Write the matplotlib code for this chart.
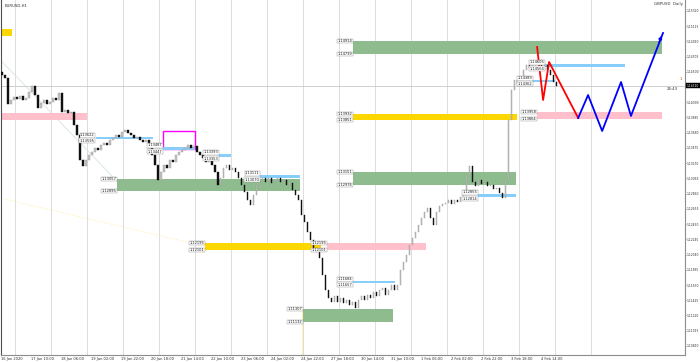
import matplotlib
matplotlib.use("Agg")
import matplotlib.pyplot as plt
from matplotlib.patches import Rectangle
import matplotlib.transforms as mtrans

# ---------------- data ----------------
first_open = 1.1450
closes = [
    1.1446, 1.1442, 1.1407, 1.1412, 1.1416, 1.1413, 1.1417, 1.1412, 1.1415, 1.1423,
    1.1431, 1.1419, 1.1401, 1.1408, 1.1412, 1.1407, 1.1409, 1.1415, 1.1412, 1.1421,
    1.1396, 1.1399, 1.1395, 1.1396, 1.1378, 1.1365, 1.1331, 1.1323, 1.1331, 1.1338,
    1.1342, 1.1347, 1.1345, 1.1351, 1.1354, 1.1351, 1.1358, 1.1361, 1.1365, 1.1362,
    1.1369, 1.1372, 1.1368, 1.1365, 1.1361, 1.1362, 1.1358, 1.1355, 1.1358, 1.1347,
    1.1338, 1.1325, 1.1304, 1.1315, 1.1325, 1.1320, 1.1331, 1.1329, 1.1338, 1.1342,
    1.1345, 1.1347, 1.1351, 1.1347, 1.1350, 1.1342, 1.1338, 1.1334, 1.1329, 1.1331,
    1.1325, 1.1315, 1.1298, 1.1307, 1.1320, 1.1325, 1.1318, 1.1320, 1.1315, 1.1307,
    1.1298, 1.1288, 1.1277, 1.1271, 1.1284, 1.1298, 1.1304, 1.1307, 1.1302, 1.1307,
    1.1300, 1.1304, 1.1307, 1.1302, 1.1304, 1.1298, 1.1300, 1.1291, 1.1284, 1.1277,
    1.1257, 1.1248, 1.1234, 1.1224, 1.1213, 1.1207, 1.1199, 1.1176, 1.1156, 1.1145,
    1.1140, 1.1148, 1.1140, 1.1145, 1.1139, 1.1143, 1.1136, 1.1140, 1.1132, 1.1143,
    1.1148, 1.1143, 1.1150, 1.1145, 1.1154, 1.1148, 1.1156, 1.1159, 1.1150, 1.1156,
    1.1163, 1.1156, 1.1163, 1.1183, 1.1194, 1.1203, 1.1217, 1.1226, 1.1234, 1.1244,
    1.1253, 1.1261, 1.1267, 1.1253, 1.1244, 1.1261, 1.1269, 1.1272, 1.1273, 1.1277,
    1.1272, 1.1277, 1.1275, 1.1281, 1.1284, 1.1311, 1.1323, 1.1302, 1.1296, 1.1304,
    1.1299, 1.1302, 1.1296, 1.1298, 1.1292, 1.1294, 1.1287, 1.1280, 1.1304, 1.1385,
    1.1425, 1.1439, 1.1434, 1.1442, 1.1452, 1.1459, 1.1455, 1.1463, 1.1459, 1.1466,
    1.1452, 1.1459, 1.1452, 1.1446, 1.1436, 1.1431,
]

price_ticks = [1.15320, 1.15115, 1.14910, 1.14705, 1.14500, 1.14295, 1.14090, 1.13885,
               1.13680, 1.13475, 1.13270, 1.13065, 1.12860, 1.12655, 1.12450, 1.12245,
               1.12040, 1.11835, 1.11630, 1.11425, 1.11220, 1.11015, 1.10810]

date_labels = ["16 Jan 2020", "17 Jan 10:00", "18 Jan 06:00", "19 Jan 02:00", "19 Jan 22:00",
               "20 Jan 18:00", "21 Jan 14:00", "22 Jan 10:00", "23 Jan 06:00", "24 Jan 02:00",
               "24 Jan 22:00", "27 Jan 18:00", "30 Jan 14:00", "31 Jan 10:00",
               "1 Feb 06:00", "2 Feb 02:00", "2 Feb 22:00", "3 Feb 18:00", "4 Feb 14:00"]
date_label_bars = [-0.5, 9.5, 19.5, 29.5, 39.5, 49.5, 59.5, 69.5, 79.5, 89.5, 99.5,
                   109.5, 119.5, 129.5, 139.5, 149.5, 159.5, 169.5, 179.5]
grid_bars = [4.5 + 12 * k for k in range(17)]

# zones: (start bar, end bar, top price, bottom price, colour, style, labelled)
zones = [
    (-0.5, 3.5, 1.15076, 1.14981, "#ffd700", "fill", False),
    (-0.5, 28.5, 1.13945, 1.13851, "#ffc0cb", "fill", False),
    (31.2, 50.5, 1.13622, 1.13595, "#87cefa", "fill", True),
    (53.8, 64.5, 1.13703, 1.13460, "#ff00ff", "outline", False),
    (53.8, 64.5, 1.13487, 1.13447, "#87cefa", "fill", True),
    (72.5, 76.5, 1.13393, 1.13353, "#87cefa", "fill", True),
    (38.5, 99.5, 1.13057, 1.12895, "#8fbc8f", "fill", True),
    (86.2, 99.5, 1.13111, 1.13070, "#87cefa", "fill", True),
    (67.8, 106.5, 1.12195, 1.12101, "#ffd700", "fill", True),
    (108.5, 141.5, 1.12195, 1.12101, "#ffc0cb", "fill", True),
    (100.5, 130.5, 1.11307, 1.11132, "#8fbc8f", "fill", True),
    (117.2, 131.2, 1.11684, 1.11657, "#87cefa", "fill", True),
    (117.2, 171.5, 1.13151, 1.12976, "#8fbc8f", "fill", True),
    (158.8, 171.5, 1.12855, 1.12814, "#87cefa", "fill", True),
    (117.2, 171.8, 1.13932, 1.13851, "#ffd700", "fill", True),
    (178.5, 220.2, 1.13958, 1.13864, "#ffc0cb", "fill", True),
    (117.2, 220.2, 1.14914, 1.14739, "#8fbc8f", "fill", True),
    (181.2, 207.8, 1.14605, 1.14564, "#87cefa", "fill", True),
    (177.2, 184.5, 1.14389, 1.14362, "#87cefa", "fill", True),
]

red_x = [178.5, 180.5, 182.5, 192.2]
red_p = [1.14833, 1.14120, 1.14631, 1.13878]
blue_x = [192.2, 195.5, 200.2, 206.5, 209.8, 220.5]
blue_p = [1.13878, 1.14187, 1.13703, 1.14362, 1.13905, 1.15022]

# ---------------- figure ----------------
W, H = 700, 362
fig = plt.figure(figsize=(W / 100, H / 100), dpi=100)
ax = fig.add_axes([0.5 / W, (H - 355) / H, 684.5 / W, 355 / H])
ax.set_xlim(-0.5, 685 / 3 - 0.5)
ax.set_ylim(1.10688, 1.15466)

for g in grid_bars:
    ax.axvline(g, color="#dcdcdc", lw=0.7, zorder=0)

# faint helper lines
ax.plot([-0.5, 38], [1.14658, 1.13043], color="#d5e6d5", lw=0.6, zorder=1)
ax.plot([-0.5, 67.8], [1.12800, 1.12150], color="#fff0b0", lw=0.6, ls=(0, (2, 2)), zorder=1)
ax.plot([100.2, 100.2], [1.10688, 1.11300], color="#fff0a0", lw=0.6, zorder=1)

# zones
for x0, x1, top, bot, col, style, lab in zones:
    if style == "fill":
        ax.add_patch(Rectangle((x0, bot), x1 - x0, top - bot, facecolor=col,
                               edgecolor="none", zorder=2))
    else:
        ax.add_patch(Rectangle((x0, bot), x1 - x0, top - bot, facecolor="none",
                               edgecolor=col, lw=1.0, zorder=2))
    if lab:
        thin = (top - bot) < 0.0005
        off = 0.00024 if thin else 0.0
        for p, shift in ((top, off), (bot, -off)):
            ax.text(x0 - 0.3, p + shift, f"{p:.5f}", ha="right", va="center", fontsize=2.6,
                    color="#202020", zorder=6,
                    bbox=dict(boxstyle="square,pad=0.1", fc="white", ec="#909090", lw=0.3))

# bid line
ax.axhline(closes[-1], color="#c8c8c8", lw=0.6, zorder=1)

# candles
prev = first_open
for i, c in enumerate(closes):
    up = c >= prev
    lo, hi = min(prev, c), max(prev, c)
    h = max(hi - lo, 0.00003)
    ax.add_patch(Rectangle((i - 0.22, lo), 0.44, h,
                           facecolor="#c4c4c4" if up else "#101010",
                           edgecolor="#9a9a9a" if up else "#101010", lw=0.3, zorder=3))
    prev = c

# projections
ax.plot(red_x, red_p, color="#ff0000", lw=1.3, zorder=5)
ax.plot(blue_x, blue_p, color="#0000ff", lw=1.3, zorder=5)
ax.annotate("", xy=(blue_x[-1], blue_p[-1]), xytext=(blue_x[-2] + 9, blue_p[-2] + 0.0096),
            arrowprops=dict(arrowstyle="-|>", color="#0000ff", lw=1.0, mutation_scale=5),
            zorder=5)

# axes styling
ax.spines["top"].set_visible(False)
for s in ("right", "bottom"):
    ax.spines[s].set_color("#8c8c8c")
    ax.spines[s].set_linewidth(0.8)
ax.spines["left"].set_color("#505050")
ax.spines["left"].set_linewidth(0.8)
ax.set_xticks([])
ax.yaxis.tick_right()
ax.set_yticks(price_ticks)
# the label under the current-price tag is hidden, as in the terminal
ax.set_yticklabels(["" if abs(t - closes[-1]) < 0.0006 else f"{t:.5f}" for t in price_ticks])
ax.tick_params(axis="y", labelsize=2.2, length=1.0, width=0.4, colors="#303030", pad=0.5)

# date labels
trans = mtrans.blended_transform_factory(ax.transData, ax.transAxes)
for b, t in zip(date_label_bars, date_labels):
    ax.text(b + 0.3, -0.006, t, transform=trans, ha="left", va="top", fontsize=2.6,
            color="#303030", clip_on=False)

# price tag and misc texts
ptrans = mtrans.blended_transform_factory(ax.transAxes, ax.transData)
ax.text(1.0025, closes[-1], f"{closes[-1]:.5f}", transform=ptrans, ha="left", va="center",
        fontsize=2.2, color="white", clip_on=False, zorder=10,
        bbox=dict(boxstyle="square,pad=0.15", fc="black", ec="black", lw=0.3))
ax.text(225.5, closes[-1] - 0.0001, "26:43", ha="right", va="top", fontsize=2.8,
        color="#303030")
ax.text(226.8, closes[-1] + 0.0007, "1", ha="right", va="bottom", fontsize=2.8,
        color="#e04010")
ax.text(0.006, 0.99, "EURUSD,H1", transform=ax.transAxes, ha="left", va="top",
        fontsize=2.8, color="#303030")
ax.text(0.997, 0.995, "GBPUSD  Daily", transform=ax.transAxes, ha="right", va="top",
        fontsize=2.8, color="#303030")

fig.savefig("out.png", dpi=100)
